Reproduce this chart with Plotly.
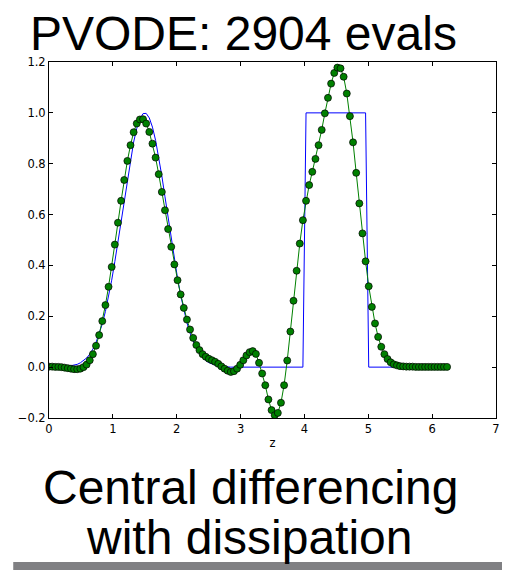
import numpy as np
import plotly.graph_objects as go

# grid: 128 periodic points on [0, 2*pi)
N = 128
z = (np.arange(N) * 2 * np.pi / N).tolist()

# exact solution (blue)
exact = [
    0.000, 0.000, 0.000, 0.001, 0.001, 0.002, 0.003, 0.005, 0.007, 0.011,
    0.017, 0.025, 0.036, 0.051, 0.071, 0.097, 0.130, 0.170, 0.219, 0.276,
    0.342, 0.415, 0.494, 0.577, 0.661, 0.743, 0.819, 0.885, 0.939, 0.977,
    0.997, 0.998, 0.980, 0.944, 0.892, 0.827, 0.752, 0.670, 0.586, 0.503,
    0.423, 0.350, 0.283, 0.225, 0.175, 0.134, 0.100, 0.074, 0.053, 0.038,
    0.026, 0.018, 0.012, 0.008, 0.005, 0.003, 0.002, 0.001,
    0, 0, 0, 0, 0, 0, 0, 0, 0, 0, 0, 0, 0, 0, 0, 0, 0, 0, 0, 0, 0, 0, 0, 0,
    1, 1, 1, 1, 1, 1, 1, 1, 1, 1, 1, 1, 1, 1, 1, 1, 1, 1, 1, 1,
    0, 0, 0, 0, 0, 0, 0, 0, 0, 0, 0, 0, 0, 0, 0, 0, 0, 0, 0, 0, 0, 0, 0, 0, 0, 0,
]

# PVODE numerical solution (green)
pvode = [
    0.002, 0.002, 0.001, 0.001, 0.000, -0.002, -0.004, -0.006, -0.008, -0.008,
    -0.006, 0.000, 0.010, 0.027, 0.051, 0.084, 0.126, 0.181, 0.244, 0.316,
    0.394, 0.482, 0.568, 0.654, 0.736, 0.811, 0.873, 0.924, 0.958, 0.974,
    0.975, 0.958, 0.925, 0.879, 0.824, 0.759, 0.689, 0.617, 0.543, 0.473,
    0.404, 0.342, 0.286, 0.233, 0.187, 0.148, 0.115, 0.087, 0.067, 0.051,
    0.041, 0.033, 0.027, 0.021, 0.013, 0.003, -0.006, -0.014, -0.019, -0.016,
    -0.006, 0.009, 0.027, 0.046, 0.059, 0.063, 0.052, 0.017, -0.025, -0.071,
    -0.127, -0.169, -0.189, -0.180, -0.140, -0.071, 0.026, 0.140, 0.261, 0.379,
    0.486, 0.578, 0.654, 0.716, 0.768, 0.819, 0.873, 0.933, 0.998, 1.059,
    1.115, 1.157, 1.178, 1.175, 1.142, 1.076, 0.987, 0.884, 0.764, 0.644,
    0.526, 0.416, 0.318, 0.237, 0.172, 0.119, 0.080, 0.051, 0.032, 0.019,
    0.011, 0.007, 0.004, 0.003, 0.002, 0.002, 0.002, 0.001, 0.001, 0.001,
    0.001, 0.001, 0.001, 0.001, 0.001, 0.001, 0.001, 0.001,
]

title_text = "PVODE: 2904 evals"
caption_lines = ["Central differencing", "with dissipation"]

fig = go.Figure()
fig.add_trace(go.Scatter(x=z, y=exact, mode="lines",
                         line=dict(color="#0000ff", width=1)))
fig.add_trace(go.Scatter(x=z, y=pvode, mode="lines+markers",
                         line=dict(color="#008000", width=1),
                         marker=dict(color="#008000", size=7,
                                     line=dict(color="black", width=0.7))))

tickfont = dict(family="DejaVu Sans", size=11.5, color="black")
axis_common = dict(showline=True, linecolor="black", linewidth=1, mirror="ticks",
                   ticks="inside", ticklen=4, tickwidth=1, tickcolor="black",
                   showgrid=False, zeroline=False, tickfont=tickfont)

bigfont = dict(family="Liberation Sans", size=48, color="black")

# the page body has an 8px margin, so the figure is 8px smaller on each side
fig.update_layout(
    width=502, height=562,
    margin=dict(l=32, r=10, t=54, b=152),
    showlegend=False,
    plot_bgcolor="white", paper_bgcolor="white",
    xaxis=dict(range=[0, 7], dtick=1, tick0=0,
               title=dict(text="z", font=tickfont, standoff=4), **axis_common),
    yaxis=dict(range=[-0.2, 1.2], dtick=0.2, tick0=-0.2, tickformat=".1f",
               **axis_common),
    annotations=[
        dict(text=title_text, x=0.4359, y=1.0803, xref="paper", yref="paper",
             xanchor="center", yanchor="middle", showarrow=False, font=bigfont),
        dict(text=caption_lines[0], x=0.451, y=-0.1949, xref="paper", yref="paper",
             xanchor="center", yanchor="middle", showarrow=False, font=bigfont),
        dict(text=caption_lines[1], x=0.449, y=-0.3354, xref="paper", yref="paper",
             xanchor="center", yanchor="middle", showarrow=False, font=bigfont),
    ],
    shapes=[dict(type="rect", xref="paper", yref="paper",
                 x0=-0.08, x1=1.03, y0=-0.43, y1=-0.4045,
                 fillcolor="#808083", line=dict(width=0), layer="above")],
)

fig.write_html("out.html")
